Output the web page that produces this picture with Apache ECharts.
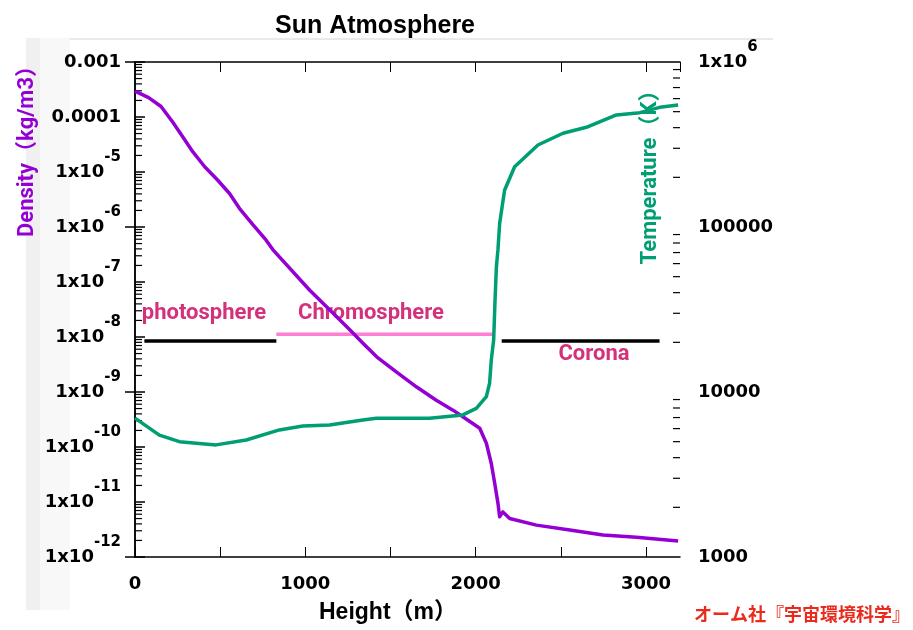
<!DOCTYPE html>
<html>
<head>
<meta charset="utf-8">
<script src="https://cdn.jsdelivr.net/npm/echarts@6/dist/echarts.min.js"></script>
<style>
html,body{margin:0;padding:0;background:#fff;}
#chart{width:913px;height:630px;}
</style>
</head>
<body>
<div id="chart"></div>
<script>
// ---- Data ----
const densityHeights = [0,80,153,221,280,339,408,486,555,613,692,770,809,1026,1144,1261,1337,1419,1536,1654,1769,1867,1925,2024,2063,2092,2112,2131,2141,2160,2200,2357,2553,2748,2944,3189];
const densityValues = [2.95e-4,2.25e-4,1.55e-4,8.13e-5,4.37e-5,2.34e-5,1.26e-5,7.08e-6,4.07e-6,2.19e-6,1.10e-6,5.75e-7,3.89e-7,7.08e-8,3.09e-8,1.35e-8,7.76e-9,4.37e-9,2.29e-9,1.23e-9,7.08e-10,4.68e-10,3.55e-10,2.19e-10,1.17e-10,5.01e-11,2.19e-11,9.55e-12,5.37e-12,6.61e-12,5.01e-12,3.80e-12,3.09e-12,2.51e-12,2.29e-12,1.95e-12];

const tempHeights = [0,143,261,476,653,848,985,1142,1338,1417,1730,1925,2004,2063,2082,2092,2106,2114,2122,2131,2141,2170,2229,2366,2513,2650,2827,2964,3081,3189];
const tempValues = [6950,5480,5000,4780,5115,5890,6220,6310,6760,6930,6930,7260,7960,9380,11300,15600,20700,36100,57400,72600,105000,167000,232000,314000,370000,402000,478000,493000,531000,548000];

// region bars [startHeight, endHeight, density level]
const photosphereBar = [55, 830, 8.45e-9];
const chromosphereBar = [830, 2100, 1.12e-8];
const coronaBar = [2153, 3080, 8.45e-9];

// tick labels
const densityTickValues = [1e-12,1e-11,1e-10,1e-9,1e-8,1e-7,1e-6,1e-5,1e-4,1e-3];
const densityTickLabels = ['1x10|-12','1x10|-11','1x10|-10','1x10|-9','1x10|-8','1x10|-7','1x10|-6','1x10|-5','0.0001','0.001'];
const tempTickValues = [1e3,1e4,1e5,1e6];
const tempTickLabels = ['1000','10000','100000','1x10|6'];
const heightTickLabels = ['0','1000','2000','3000'];
const heightTickValues = [0,1000,2000,3000];

// minor tick values (log axes)
const densityMinor = [];
for (let e = -12; e < -3; e++) for (let m = 2; m <= 9; m++) densityMinor.push(m * Math.pow(10, e));
const tempMinor = [];
for (let e = 3; e < 6; e++) for (let m = 2; m <= 9; m++) tempMinor.push(m * Math.pow(10, e));

// ---- Chart ----
const chart = echarts.init(document.getElementById('chart'), null, {renderer: 'canvas'});
const tickFont = 'DejaVu Sans';
const labelRich = {
  b: {fontFamily: tickFont, fontWeight: 'bold', fontSize: 18, color: '#000', verticalAlign: 'middle', lineHeight: 44},
  s: {fontFamily: tickFont, fontWeight: 'bold', fontSize: 15, color: '#000', verticalAlign: 'top', lineHeight: 44}
};
function fmtLog(values, labels) {
  return function (v) {
    let best = -1, bd = 1e9;
    values.forEach((t, i) => { const d = Math.abs(Math.log10(t) - Math.log10(v)); if (d < bd) { bd = d; best = i; } });
    if (best < 0 || bd > 0.01) return '';
    const L = labels[best];
    if (L.indexOf('|') >= 0) {
      const parts = L.split('|');
      return '{b|' + parts[0] + '}{s|' + parts[1] + '}';
    }
    return '{b|' + L + '}';
  };
}
function minorRender(dir, len) {
  return function (params, api) {
    const p = api.coord([api.value(0), api.value(1)]);
    return {type: 'line', shape: {x1: p[0], y1: p[1], x2: p[0] + dir * len, y2: p[1]}, style: {stroke: '#000', lineWidth: 1.2}};
  };
}

const option = {
  animation: false,
  backgroundColor: '#fff',
  title: {
    text: 'Sun Atmosphere', left: 370, top: 9, textAlign: 'center',
    textStyle: {fontFamily: 'Liberation Sans Narrow, Liberation Sans', fontWeight: 'bold', fontSize: 25, color: '#000'}
  },
  grid: {left: 135, right: 233, top: 62, bottom: 73, containLabel: false},
  xAxis: [{
    type: 'value', min: 0, max: 3200, interval: 500, position: 'bottom',
    axisLine: {lineStyle: {color: '#000', width: 1.5}},
    axisTick: {inside: true, length: 10, lineStyle: {color: '#000', width: 1}},
    splitLine: {show: false},
    axisLabel: {
      margin: 18, fontFamily: tickFont, fontWeight: 'bold', fontSize: 18, color: '#000',
      showMaxLabel: false,
      formatter: function (v) { const i = heightTickValues.indexOf(v); return i >= 0 ? heightTickLabels[i] : ''; }
    }
  }, {
    type: 'value', min: 0, max: 3200, interval: 500, position: 'top',
    axisLine: {lineStyle: {color: '#000', width: 1.5}},
    axisTick: {inside: true, length: 10, lineStyle: {color: '#000', width: 1}},
    splitLine: {show: false}, axisLabel: {show: false}
  }],
  yAxis: [{
    type: 'log', logBase: 10, min: 1e-12, max: 1e-3, position: 'left',
    axisLine: {show: true, lineStyle: {color: '#000', width: 1.5}},
    axisTick: {inside: true, length: 10, lineStyle: {color: '#000', width: 1.5}},
    splitLine: {show: false},
    axisLabel: {margin: 14, formatter: fmtLog(densityTickValues, densityTickLabels), rich: labelRich}
  }, {
    type: 'log', logBase: 10, min: 1e3, max: 1e6, position: 'right',
    axisLine: {show: true, lineStyle: {color: '#000', width: 1.5}},
    axisTick: {inside: true, length: 10, lineStyle: {color: '#000', width: 1.5}},
    splitLine: {show: false},
    axisLabel: {margin: 18, formatter: fmtLog(tempTickValues, tempTickLabels), rich: labelRich}
  }],
  series: [
    {
      name: 'density-minor', type: 'custom', xAxisIndex: 0, yAxisIndex: 0, silent: true, clip: false,
      renderItem: minorRender(1, 7),
      data: densityMinor.map(v => [0, v])
    },
    {
      name: 'temp-minor', type: 'custom', xAxisIndex: 0, yAxisIndex: 1, silent: true, clip: false,
      renderItem: minorRender(-1, 7),
      data: tempMinor.map(v => [3200, v])
    },
    {
      name: 'Photosphere', type: 'line', xAxisIndex: 0, yAxisIndex: 0, symbol: 'none', silent: true,
      lineStyle: {color: '#000', width: 3.5},
      data: [[photosphereBar[0], photosphereBar[2]], [photosphereBar[1], photosphereBar[2]]]
    },
    {
      name: 'Chromosphere', type: 'line', xAxisIndex: 0, yAxisIndex: 0, symbol: 'none', silent: true,
      lineStyle: {color: '#ff7fd4', width: 3.5},
      data: [[chromosphereBar[0], chromosphereBar[2]], [chromosphereBar[1], chromosphereBar[2]]]
    },
    {
      name: 'Corona', type: 'line', xAxisIndex: 0, yAxisIndex: 0, symbol: 'none', silent: true,
      lineStyle: {color: '#000', width: 3.5},
      data: [[coronaBar[0], coronaBar[2]], [coronaBar[1], coronaBar[2]]]
    },
    {
      name: 'Density', type: 'line', xAxisIndex: 0, yAxisIndex: 0, symbol: 'none', silent: true,
      lineStyle: {color: '#9400d3', width: 3.5, join: 'round'},
      data: densityHeights.map((h, i) => [h, densityValues[i]])
    },
    {
      name: 'Temperature', type: 'line', xAxisIndex: 0, yAxisIndex: 1, symbol: 'none', silent: true,
      lineStyle: {color: '#009e73', width: 3.5, join: 'round'},
      data: tempHeights.map((h, i) => [h, tempValues[i]])
    }
  ],
  graphic: [
    {type: 'rect', z: -10, shape: {x: 26, y: 38, width: 14, height: 572}, style: {fill: '#f0f0f0'}},
    {type: 'rect', z: -10, shape: {x: 40, y: 38, width: 30, height: 572}, style: {fill: '#f8f8f8'}},
    {type: 'line', z: -10, shape: {x1: 70, y1: 39, x2: 773, y2: 39}, style: {stroke: '#d4d4d4', lineWidth: 1}},
    {type: 'text', x: 27, y: 146, rotation: Math.PI / 2,
      style: {text: 'Density（kg/m3）', fill: '#9400d3', font: 'bold 22px Roboto, "Noto Sans CJK JP"', align: 'center', verticalAlign: 'middle'}},
    {type: 'text', x: 650, y: 172, rotation: Math.PI / 2,
      style: {text: 'Temperature（K）', fill: '#009e73', font: 'bold 22px Roboto, "Noto Sans CJK JP"', align: 'center', verticalAlign: 'middle'}},
    {type: 'text', x: 388, y: 613,
      style: {text: 'Height（m）', fill: '#000', font: 'bold 23px "Liberation Sans Narrow", "Liberation Sans", "Noto Sans CJK JP"', align: 'center', verticalAlign: 'middle'}},
    {type: 'text', x: 204, y: 313,
      style: {text: 'photosphere', fill: '#d4317b', font: 'bold 22px Roboto', align: 'center', verticalAlign: 'middle'}},
    {type: 'text', x: 371, y: 313,
      style: {text: 'Chromosphere', fill: '#d4317b', font: 'bold 22px Roboto', align: 'center', verticalAlign: 'middle'}},
    {type: 'text', x: 594, y: 354,
      style: {text: 'Corona', fill: '#d4317b', font: 'bold 22px Roboto', align: 'center', verticalAlign: 'middle'}},
    {type: 'text', x: 910, y: 614,
      style: {text: 'オーム社『宇宙環境科学』', fill: '#ea2b1c', font: 'bold 18px "Noto Sans CJK JP"', align: 'right', verticalAlign: 'middle'}}
  ]
};
chart.setOption(option);
</script>
</body>
</html>
